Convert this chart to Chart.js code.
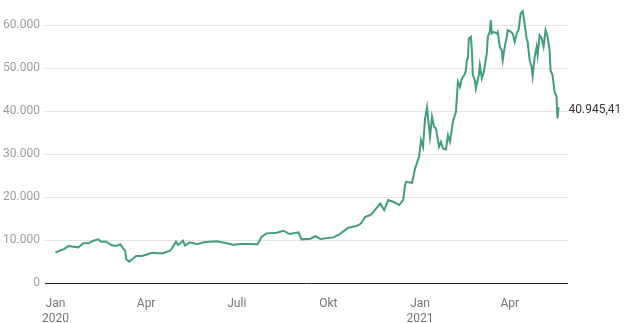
<!DOCTYPE html>
<html>
<head>
    <meta charset="utf-8">
    <title>Bitcoin Kurs</title>
    <script src="https://cdn.jsdelivr.net/npm/chart.js"></script>
    <style>
        body { margin: 0; background: #fff; }
        #wrap { width: 625px; height: 323px; }
    </style>
</head>
<body>
    <div id="wrap"><canvas id="priceChart"></canvas></div>

<script>
    // Kursdaten (USD)
    const dates = [
        '2020-01-01', '2020-01-05', '2020-01-09', '2020-01-14', '2020-01-19', '2020-01-24', '2020-01-29',
        '2020-02-03', '2020-02-08', '2020-02-13', '2020-02-16', '2020-02-21', '2020-02-26',
        '2020-03-02', '2020-03-06', '2020-03-09', '2020-03-11', '2020-03-12', '2020-03-15', '2020-03-18',
        '2020-03-22', '2020-03-28', '2020-03-31', '2020-04-07', '2020-04-12', '2020-04-18', '2020-04-22',
        '2020-04-25', '2020-04-28', '2020-05-01', '2020-05-03', '2020-05-07', '2020-05-08', '2020-05-10',
        '2020-05-15', '2020-05-22', '2020-05-29', '2020-06-04', '2020-06-11', '2020-06-21', '2020-06-27',
        '2020-07-06', '2020-07-11', '2020-07-22', '2020-07-26', '2020-07-31', '2020-08-10', '2020-08-17',
        '2020-08-23', '2020-09-01', '2020-09-04', '2020-09-13', '2020-09-18', '2020-09-23', '2020-10-06',
        '2020-10-12', '2020-10-21', '2020-10-29', '2020-11-02', '2020-11-05', '2020-11-07', '2020-11-12',
        '2020-11-14', '2020-11-18', '2020-11-22', '2020-11-26', '2020-11-30', '2020-12-05', '2020-12-11',
        '2020-12-15', '2020-12-17', '2020-12-18', '2020-12-24', '2020-12-27', '2020-12-31',
        '2021-01-02', '2021-01-04', '2021-01-06', '2021-01-07', '2021-01-08', '2021-01-11', '2021-01-13',
        '2021-01-15', '2021-01-17', '2021-01-20', '2021-01-22', '2021-01-24', '2021-01-27', '2021-01-29',
        '2021-01-31', '2021-02-03', '2021-02-06', '2021-02-08', '2021-02-10', '2021-02-12', '2021-02-15',
        '2021-02-16', '2021-02-17', '2021-02-18', '2021-02-19', '2021-02-21', '2021-02-22', '2021-02-23',
        '2021-02-25', '2021-02-26', '2021-03-01', '2021-03-02', '2021-03-04', '2021-03-06', '2021-03-09',
        '2021-03-10', '2021-03-12', '2021-03-13', '2021-03-14', '2021-03-16', '2021-03-19', '2021-03-20',
        '2021-03-22', '2021-03-24', '2021-03-25', '2021-03-27', '2021-03-29', '2021-03-30', '2021-04-02',
        '2021-04-04', '2021-04-06', '2021-04-08', '2021-04-10', '2021-04-12', '2021-04-14', '2021-04-15',
        '2021-04-18', '2021-04-19', '2021-04-21', '2021-04-23', '2021-04-24', '2021-04-26', '2021-04-28',
        '2021-04-29', '2021-05-01', '2021-05-03', '2021-05-05', '2021-05-07', '2021-05-09', '2021-05-11',
        '2021-05-12', '2021-05-14', '2021-05-16', '2021-05-18', '2021-05-19', '2021-05-20'
    ];
    const prices = [
        7050, 7510, 7830, 8600, 8440, 8300, 9230,
        9230, 9840, 10160, 9600, 9600, 8840,
        8600, 9000, 8060, 7510, 5510, 4950, 5510,
        6280, 6280, 6510, 7050, 6900, 6900, 7290,
        7510, 8440, 9600, 8840, 9600, 9840, 8700,
        9460, 9000, 9500, 9600, 9700, 9230, 8900,
        9100, 9070, 9000, 10770, 11550, 11700, 12170,
        11400, 11780, 10160, 10300, 10930, 10230, 10620,
        11320, 12860, 13260, 13720, 14650, 15420, 15810,
        16200, 17370, 18530, 16980, 19300, 18900, 18140,
        19300, 22790, 23560, 23330, 26670, 29380,
        33300, 31700, 38300, 39460, 40860, 34030, 38680,
        36350, 35970, 31700, 32870, 31320, 31090, 34420,
        32870, 37520, 39840, 46820, 45650, 47600, 48600,
        49500, 51860, 52300, 56900, 57290, 54190, 48370,
        47210, 45270, 48370, 50700, 47600, 49150, 53420,
        57290, 58450, 61160, 58060, 58450, 58060, 58450,
        54960, 54190, 51860, 54960, 57290, 58840, 58450,
        58060, 56130, 58060, 59000, 62720, 63260, 61940,
        56900, 56130, 51860, 50310, 48140, 52500, 54960,
        53020, 57670, 57000, 54960, 58840, 57290, 54190,
        49530, 48370, 44490, 43330, 38300, 40945.41
    ];

    // Achsenbeschriftung
    const xTickDates = ['2020-01-01', '2020-04-01', '2020-07-01', '2020-10-01', '2021-01-01', '2021-04-01'];
    const xTickLabels = [['Jan', '2020'], 'Apr', 'Juli', 'Okt', ['Jan', '2021'], 'Apr'];
    const yTicks = [0, 10000, 20000, 30000, 40000, 50000, 60000];

    // Tage seit 1.1.2020
    const start = Date.UTC(2020, 0, 1);
    function toDay(s) {
        const p = s.split('-').map(Number);
        return (Date.UTC(p[0], p[1] - 1, p[2]) - start) / 864e5;
    }

    function fmtDE(v, dec) {
        const parts = v.toFixed(dec).split('.');
        parts[0] = parts[0].replace(/\B(?=(\d{3})+(?!\d))/g, '.');
        return parts.join(',');
    }

    const points = dates.map((d, i) => ({ x: toDay(d), y: prices[i] }));

    // Wert am letzten Punkt anzeigen
    const lastLabel = {
        id: 'lastLabel',
        afterDatasetsDraw(chart) {
            const meta = chart.getDatasetMeta(0);
            const pt = meta.data[meta.data.length - 1];
            const ctx = chart.ctx;
            ctx.save();
            ctx.font = '12px Roboto';
            ctx.fillStyle = '#333';
            ctx.textAlign = 'left';
            ctx.textBaseline = 'middle';
            ctx.fillText(fmtDE(prices[prices.length - 1], 2), pt.x + 10, pt.y + 3);
            ctx.restore();
        }
    };

    Chart.defaults.font.family = 'Roboto';
    Chart.defaults.font.size = 12;

    new Chart(document.getElementById('priceChart'), {
        type: 'line',
        data: {
            datasets: [{
                data: points,
                borderColor: '#419e7b',
                borderWidth: 2,
                pointRadius: 0,
                tension: 0,
                fill: false
            }]
        },
        options: {
            responsive: true,
            maintainAspectRatio: false,
            animation: false,
            layout: { padding: { top: 8, right: 57, left: 0, bottom: 0 } },
            plugins: {
                legend: { display: false },
                tooltip: { enabled: false }
            },
            scales: {
                x: {
                    type: 'linear',
                    min: -10.5,
                    max: 514.5,
                    grid: { display: false },
                    border: { display: false },
                    afterBuildTicks: scale => {
                        scale.ticks = xTickDates.map(d => ({ value: toDay(d) }));
                    },
                    afterFit: scale => {
                        scale.height = 40;
                        scale.paddingLeft = 0;
                        scale.paddingRight = 0;
                    },
                    ticks: {
                        autoSkip: false,
                        maxRotation: 0,
                        padding: 6,
                        color: '#757575',
                        callback: (value, index) => xTickLabels[index]
                    }
                },
                y: {
                    min: 0,
                    max: 64000,
                    border: { display: false },
                    grid: {
                        drawTicks: false,
                        color: ctx => ctx.tick && ctx.tick.value === 0 ? '#222' : '#e3e3e3'
                    },
                    afterBuildTicks: scale => {
                        scale.ticks = yTicks.map(v => ({ value: v }));
                    },
                    afterFit: scale => {
                        scale.width = 45;
                        scale.paddingTop = 0;
                        scale.paddingBottom = 0;
                    },
                    ticks: {
                        padding: 5,
                        color: '#9e9e9e',
                        callback: value => fmtDE(value, 0)
                    }
                }
            }
        },
        plugins: [lastLabel]
    });
</script>
</body>
</html>
